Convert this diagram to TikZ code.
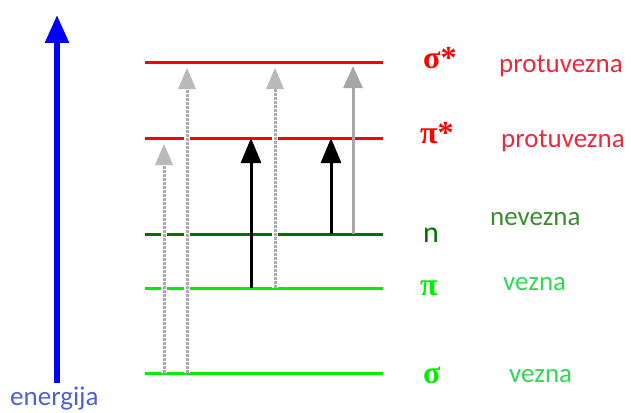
\documentclass[tikz,border=0pt]{standalone}
\usepackage{fontspec}
\setmainfont{Carlito}
\newfontfamily\grkfont{Liberation Serif}
\usetikzlibrary{arrows.meta}

\definecolor{levred}{RGB}{255,0,0}
\definecolor{levdark}{RGB}{0,112,0}
\definecolor{levlime}{RGB}{0,238,0}
\definecolor{txtred}{RGB}{235,40,60}
\definecolor{txtdark}{RGB}{60,140,45}
\definecolor{txtlime}{RGB}{50,215,85}
\definecolor{txtblue}{RGB}{80,95,210}

\begin{document}
\begin{tikzpicture}[x=1pt, y=-1pt, >=Latex]
    \tikzset{
        lvline/.style={line width=3pt},
        symlab/.style={anchor=base west, inner sep=0pt, font=\grkfont\bfseries\fontsize{32}{34}\selectfont},
        orbtxt/.style={anchor=base west, inner sep=0pt, font=\fontsize{27}{30}\selectfont},
        jump/.style={line width=3pt, -{Triangle[width=20pt,length=25pt]}},
        faint/.style={line width=3pt, gray!70, shorten >=4pt, -{Triangle[width=19pt,length=22pt]}},
        hatch/.style={line width=3pt, gray!65, dash pattern=on 3pt off 1pt, shorten >=6pt,
            -{Triangle[width=18pt,length=21pt,color=gray!55,fill=gray!55,line width=0pt]},
            preaction={draw=white, solid, line width=6pt, -}}
    }
    \useasboundingbox (0,0) rectangle (631,412);
    % energy axis
    \coordinate (ebot) at (57,383);
    \coordinate (etop) at (57,15);
    \draw[blue, line width=5.5pt, -{Triangle[width=23pt,length=28pt]}] (ebot) -- (etop);
    \node[orbtxt, text=txtblue] (elab) at (10,405) {energija};
    % levels
    \foreach \lv/\y/\c in {ss/62/levred, ps/138/levred, n/234/levdark, p/288/levlime, s/373/levlime} {
        \coordinate (\lv L) at (145,\y);
        \coordinate (\lv R) at (383,\y);
        \draw[lvline, \c] (\lv L) -- (\lv R);
    }
    \foreach \k/\x in {1/164, 2/187, 3/275, 4/251, 5/331, 6/353}
        \coordinate (col\k) at (\x,0);
    % transitions
    \draw[hatch] (col1 |- sL) -- (col1 |- psL);
    \draw[hatch] (col2 |- sL) -- (col2 |- ssL);
    \draw[hatch] (col3 |- pL) -- (col3 |- ssL);
    \draw[jump] (col4 |- pL) -- (col4 |- psL);
    \draw[jump] (col5 |- nL) -- (col5 |- psL);
    \draw[faint] (col6 |- nL) -- (col6 |- ssL);
    % level symbols
    \node[symlab, text=levred] (sslab) at (423,68) {σ*};
    \node[symlab, text=levred] (pslab) at (420,143) {π*};
    \node[orbtxt, text=levdark, font=\fontsize{30}{32}\selectfont] (nlab) at (423,242) {n};
    \node[symlab, text=levlime] (plab) at (420,295) {π};
    \node[symlab, text=levlime] (slab) at (423,383) {σ};
    % orbital types
    \node[orbtxt, text=txtred] (sstxt) at (499,72) {protuvezna};
    \node[orbtxt, text=txtred] (pstxt) at (501,147) {protuvezna};
    \node[orbtxt, text=txtdark] (ntxt) at (490,225) {nevezna};
    \node[orbtxt, text=txtlime] (ptxt) at (503,290) {vezna};
    \node[orbtxt, text=txtlime] (stxt) at (509,382) {vezna};
\end{tikzpicture}
\end{document}
